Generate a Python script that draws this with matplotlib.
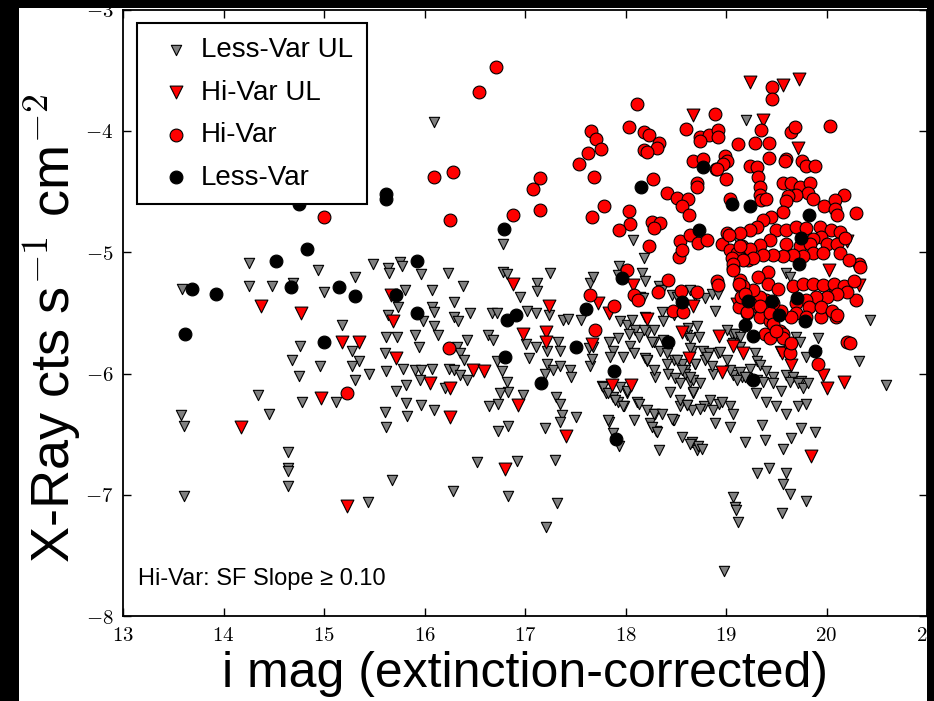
import numpy as np
import matplotlib
matplotlib.use("Agg")
import matplotlib.pyplot as plt
from matplotlib.patches import Rectangle
from matplotlib.ticker import FuncFormatter

plt.rcParams['font.family'] = ['Liberation Sans', 'DejaVu Sans']
plt.rcParams['mathtext.fontset'] = 'cm'

# i mag (extinction-corrected), log X-ray flux
lessvar_ul = [
    (16.09, -3.93),
    (13.59, -5.30), (14.25, -5.09), (14.94, -5.15), (14.25, -5.28), (14.48, -5.28), (14.69, -5.25),
    (15.00, -5.33), (15.31, -5.20), (15.49, -5.10), (15.64, -5.13), (15.76, -5.08), (15.78, -5.11),
    (15.65, -5.17), (15.97, -5.18), (16.07, -5.31), (16.23, -5.17), (16.38, -5.28), (16.78, -4.93),
    (16.78, -5.16), (16.82, -5.18), (15.81, -5.31), (15.64, -5.52), (16.07, -5.45), (16.09, -5.49),
    (15.99, -5.57), (16.29, -5.41), (16.29, -5.53), (16.33, -5.57), (16.45, -5.50), (16.67, -5.50),
    (16.72, -5.50), (16.09, -5.61), (16.13, -5.68), (15.91, -5.68), (15.95, -5.78), (15.62, -5.70),
    (15.73, -5.70), (15.61, -5.83), (15.18, -5.60), (14.76, -5.77), (14.68, -5.89), (14.96, -5.94),
    (14.75, -6.02), (15.28, -5.81), (15.35, -5.90), (15.28, -5.94), (15.45, -6.00), (15.31, -6.05),
    (15.62, -5.98), (15.79, -5.96), (15.91, -5.97), (15.97, -5.97), (16.07, -5.96), (15.72, -6.14),
    (15.82, -6.09), (15.96, -6.05), (16.24, -5.96), (16.29, -5.97), (16.35, -6.01), (16.42, -6.05),
    (16.32, -5.78), (16.35, -5.83), (16.39, -5.89), (16.42, -5.72), (16.63, -5.68), (16.68, -5.72),
    (16.72, -5.90), (16.77, -5.98), (16.82, -6.07), (16.83, -6.15), (16.75, -6.16), (16.64, -6.27),
    (16.73, -6.25), (16.20, -6.12), (15.82, -6.24), (15.97, -6.26), (16.09, -6.30), (15.83, -6.35),
    (15.61, -6.32), (15.62, -6.44), (15.12, -6.23), (14.78, -6.23), (14.34, -6.18), (14.45, -6.33),
    (13.58, -6.34), (13.61, -6.43), (14.64, -6.65), (14.64, -6.78), (14.64, -6.80), (14.64, -6.93),
    (13.61, -7.01), (15.44, -7.06), (15.68, -6.88), (16.28, -6.97), (16.52, -6.73), (16.83, -7.01),
    (16.73, -6.47), (16.83, -6.43), (16.92, -6.72), (15.74, -5.45),
    (17.25, -5.17), (17.12, -5.25), (17.12, -5.32), (17.24, -5.52), (17.11, -5.50), (17.02, -5.48),
    (17.38, -5.56), (17.43, -5.55), (17.56, -5.56), (17.01, -5.76), (17.11, -5.78), (17.04, -5.87),
    (17.22, -5.81), (17.22, -5.92), (17.33, -5.74), (17.35, -5.81), (17.28, -5.97), (17.35, -5.94),
    (17.45, -5.97), (17.46, -6.03), (17.20, -6.00), (16.98, -6.18), (17.31, -6.19), (17.35, -6.25),
    (17.37, -6.34), (17.35, -6.40), (17.51, -6.36), (17.20, -6.45), (17.30, -6.71), (17.65, -5.25),
    (17.68, -5.20), (17.64, -5.79), (17.68, -5.78), (17.65, -5.94), (17.67, -5.88), (17.84, -5.74),
    (17.88, -5.81), (17.85, -5.86), (17.94, -5.11), (17.93, -5.19), (18.18, -5.05), (18.16, -5.17),
    (18.19, -5.24), (17.95, -5.57), (18.01, -5.60), (18.06, -5.56), (18.09, -5.64), (17.93, -5.71),
    (18.03, -5.67), (18.13, -5.70), (18.21, -5.66), (18.28, -5.74), (18.37, -5.72), (17.98, -5.86),
    (18.04, -5.77), (18.08, -5.83), (18.19, -5.87), (18.21, -5.90), (18.29, -6.03), (17.77, -6.10),
    (17.81, -6.16), (17.88, -6.19), (17.93, -6.23), (18.01, -6.16), (17.99, -6.27), (17.95, -6.11),
    (18.11, -6.23), (17.84, -6.40), (17.88, -6.49), (17.94, -6.60), (18.24, -6.41), (18.30, -6.47),
    (18.29, -6.33), (18.33, -6.63), (18.42, -6.00), (18.49, -6.04), (18.54, -6.27), (18.47, -6.38),
    (18.56, -6.52), (18.66, -6.56), (18.71, -6.63), (18.44, -6.15), (18.67, -6.16), (18.64, -6.07),
    (18.59, -5.97), (18.69, -5.92), (18.66, -5.81), (18.61, -5.68),
    (19.20, -3.91), (18.07, -4.90), (19.12, -4.91), (19.60, -5.17), (19.64, -5.20), (20.43, -5.56),
    (20.01, -5.31), (20.32, -5.90), (20.59, -6.09), (19.70, -5.70), (19.74, -5.74), (19.80, -5.86),
    (19.92, -5.71), (19.90, -5.83), (19.06, -5.67), (19.07, -5.75), (19.14, -5.78), (19.29, -5.83),
    (19.31, -5.90), (19.34, -5.93), (19.24, -5.96), (19.40, -5.98), (19.47, -6.03), (19.60, -6.01),
    (19.67, -6.03), (19.75, -6.06), (19.07, -6.01), (19.16, -6.03), (19.21, -6.04), (19.31, -6.05),
    (19.37, -6.07), (19.47, -6.08), (19.55, -6.14), (19.64, -6.07), (19.72, -6.08), (19.77, -6.12),
    (19.82, -6.08), (19.30, -6.16), (19.40, -6.23), (19.50, -6.27), (19.60, -6.33), (19.72, -6.27),
    (19.80, -6.25), (19.04, -6.44), (19.19, -6.56), (19.36, -6.42), (19.39, -6.55), (19.57, -6.62),
    (19.65, -6.53), (19.75, -6.45), (19.89, -6.48), (19.31, -6.82), (19.43, -6.78), (19.57, -6.91),
    (19.60, -6.82), (19.64, -6.99), (19.80, -7.05), (19.56, -7.15), (19.07, -7.02), (19.09, -7.10),
    (19.12, -7.22), (17.21, -7.26), (17.32, -7.07), (16.95, -5.37), (18.78, -6.27), (18.87, -6.30),
    (18.93, -6.25), (19.04, -6.27), (19.07, -6.33), (18.89, -6.41), (18.72, -6.60), (18.64, -6.58),
    (18.76, -6.62), (18.26, -6.44), (18.31, -6.48), (18.48, -6.38), (18.77, -5.81), (18.83, -5.83),
    (18.92, -5.83), (18.87, -6.00), (18.79, -5.89), (18.34, -5.81), (18.41, -5.83), (18.48, -5.89),
    (18.56, -5.92), (18.59, -6.00), (18.67, -6.05), (18.74, -6.08), (17.78, -6.11), (17.83, -6.16),
    (17.90, -6.22), (17.98, -6.27), (18.01, -6.14), (18.13, -6.25), (18.08, -6.38), (17.83, -6.38),
    (18.21, -6.30), (18.28, -6.33), (18.36, -6.33), (18.46, -6.37), (18.54, -6.22), (18.61, -6.26),
    (18.66, -6.30), (18.74, -6.29), (19.10, -7.12), (18.98, -7.63),
    (18.33, -5.28), (18.36, -5.31), (18.46, -5.35), (18.51, -5.37), (18.64, -5.31), (18.69, -5.36),
    (18.79, -5.38), (18.86, -5.34), (18.92, -5.34), (18.89, -5.48), (18.19, -5.53), (18.36, -5.49),
    (18.37, -5.57), (18.48, -5.52), (18.14, -5.37), (18.17, -5.38), (18.28, -5.64), (18.18, -5.64),
    (18.71, -5.61), (18.62, -5.62), (18.73, -5.70), (18.64, -5.71), (19.01, -5.64), (19.09, -5.67),
    (19.14, -5.70), (18.26, -5.74), (18.21, -5.89), (18.28, -5.97), (18.41, -5.92), (18.51, -5.89),
    (18.56, -5.97), (18.64, -5.79), (18.69, -5.92), (18.81, -5.86), (18.86, -5.94), (18.94, -5.82),
    (19.01, -5.89), (19.04, -5.97), (19.14, -5.99), (19.11, -6.05), (19.19, -6.03), (18.64, -6.03),
    (18.54, -6.08), (18.67, -6.15), (18.61, -6.26), (18.84, -6.22), (18.96, -6.23), (19.54, -5.81),
]

hivar_ul = [
    (14.37, -5.44), (14.77, -5.50), (15.69, -5.57), (15.67, -5.35), (15.18, -5.74), (15.35, -5.74),
    (15.72, -5.87), (16.88, -5.26), (14.97, -6.20), (16.05, -6.08), (16.25, -6.12), (16.48, -5.97),
    (16.59, -5.98), (16.25, -6.36), (14.17, -6.44), (16.80, -6.79), (15.23, -7.09), (16.93, -6.26),
    (17.24, -5.44), (17.21, -5.66), (17.21, -5.74), (17.41, -6.51), (17.73, -5.42), (17.84, -5.50),
    (18.07, -5.27), (17.67, -5.76), (18.21, -5.55), (18.56, -5.66), (18.63, -5.87), (17.87, -6.09),
    (18.05, -6.09), (18.67, -5.44), (16.98, -5.67), (19.24, -3.60), (19.57, -3.62), (19.73, -3.57),
    (18.67, -3.87), (19.37, -3.91), (19.72, -4.14), (19.11, -5.43), (20.02, -5.15), (20.05, -5.30),
    (20.32, -5.27), (20.20, -4.91), (18.93, -5.69), (19.07, -5.77), (19.17, -5.83), (19.56, -5.83),
    (19.65, -5.93), (19.97, -6.01), (20.00, -6.12), (20.17, -6.07), (18.96, -5.99), (19.85, -6.68),
    (19.39, -5.52),
]

hivar = [
    (16.71, -3.47), (16.54, -3.68), (16.09, -4.38), (16.28, -4.34), (14.13, -4.47),
    (15.00, -4.71), (16.25, -4.73), (16.88, -4.69), (16.24, -5.79), (15.23, -6.16),
    (17.65, -5.35), (17.70, -5.64), (17.89, -5.44), (18.01, -5.15), (18.08, -5.35), (18.12, -5.39),
    (18.32, -5.33), (18.42, -5.23), (18.55, -5.32), (18.71, -5.33), (18.47, -5.48), (18.57, -5.49),
    (18.53, -5.04),
    (18.11, -3.78), (18.03, -3.97), (18.18, -4.01), (18.23, -4.03), (18.33, -4.10), (18.31, -4.14),
    (18.18, -4.16), (18.21, -4.17), (17.66, -4.00), (17.71, -4.07), (17.76, -4.15), (17.63, -4.18),
    (17.54, -4.27), (17.69, -4.38), (17.15, -4.39), (17.08, -4.48), (17.15, -4.65), (17.79, -4.62),
    (17.67, -4.71), (18.03, -4.66), (18.04, -4.77), (17.94, -4.82), (18.26, -4.75), (18.34, -4.76),
    (18.28, -4.80), (18.23, -4.95), (18.27, -4.40), (18.41, -4.51), (18.51, -4.55), (18.62, -4.56),
    (18.56, -4.62), (18.63, -4.69), (18.60, -3.98), (18.74, -4.05), (18.83, -4.03), (18.92, -3.99),
    (18.92, -4.05), (18.74, -4.08), (18.89, -3.86), (18.67, -4.25), (18.77, -4.23), (18.71, -4.43),
    (18.71, -4.46), (18.90, -4.31), (18.99, -4.21), (19.01, -4.25), (19.00, -4.40), (19.12, -4.11),
    (19.29, -4.10), (19.43, -4.10), (19.35, -3.99), (19.46, -3.64), (19.46, -3.74), (20.03, -3.96),
    (19.65, -4.01), (19.69, -3.97), (19.43, -4.22), (19.60, -4.23), (19.59, -4.25), (19.24, -4.29),
    (19.31, -4.30), (19.76, -4.25), (19.80, -4.29), (19.89, -4.29), (20.17, -4.53), (20.29, -4.68),
    (20.20, -5.74), (20.23, -5.75), (20.29, -5.39), (20.32, -5.10), (20.33, -5.12), (19.92, -5.92),
    (20.09, -5.53), (19.95, -5.53), (18.91, -5.24), (18.92, -5.27), (18.54, -4.91), (18.56, -4.98),
    (18.64, -4.86), (18.72, -4.92), (18.81, -4.90), (18.96, -4.93), (19.04, -4.98), (19.11, -5.01),
    (19.16, -4.95), (19.22, -5.06), (19.24, -5.02), (19.07, -5.13), (19.06, -5.05), (19.01, -4.84),
    (19.04, -4.56), (19.14, -5.23), (19.14, -5.28), (19.21, -5.34), (19.19, -5.39), (19.13, -5.45),
    (19.21, -5.50), (19.31, -5.44), (19.34, -5.53), (19.44, -5.57), (19.39, -5.67), (19.54, -5.65),
    (19.57, -5.67), (19.44, -5.71), (19.64, -5.76), (19.64, -5.83),
    (19.32, -4.38), (19.34, -4.46), (19.34, -4.53), (19.35, -4.57), (19.40, -4.56), (18.97, -4.27),
    (18.91, -4.31), (19.57, -4.43), (19.65, -4.43), (19.74, -4.46), (19.84, -4.43), (19.82, -4.51),
    (19.70, -4.53), (19.87, -4.56), (19.62, -4.54), (19.60, -4.58), (19.98, -4.62), (20.08, -4.57),
    (20.08, -4.64), (20.10, -4.69), (19.57, -4.67), (19.45, -4.71), (19.37, -4.73), (19.31, -4.79),
    (19.24, -4.82), (19.14, -4.84), (19.03, -4.86), (19.50, -4.82), (19.60, -4.82), (19.70, -4.79),
    (19.80, -4.80), (19.94, -4.79), (20.04, -4.82), (20.13, -4.83), (19.95, -4.87), (19.87, -4.89),
    (20.00, -4.93), (20.10, -4.93), (20.18, -4.88), (20.13, -5.01), (20.22, -5.06), (19.44, -4.90),
    (19.34, -4.94), (19.24, -4.97), (19.14, -4.95), (19.60, -4.93), (19.74, -4.95), (19.84, -4.93),
    (19.87, -5.01), (19.97, -5.01), (19.77, -5.03), (19.67, -5.02), (19.57, -5.03), (19.47, -5.02),
    (19.37, -5.02), (19.27, -5.05), (19.17, -5.06), (19.07, -5.10), (19.42, -5.16), (19.32, -5.20),
    (19.42, -5.26), (19.52, -5.30), (19.67, -5.28), (19.77, -5.26), (19.87, -5.26), (19.97, -5.27),
    (20.07, -5.26), (20.17, -5.28), (20.27, -5.24), (20.20, -5.33), (20.10, -5.34), (20.00, -5.37),
    (19.90, -5.37), (19.80, -5.39), (19.70, -5.42), (19.83, -5.45), (19.95, -5.45), (20.05, -5.48),
    (19.70, -5.50), (19.80, -5.53), (19.65, -5.53), (19.55, -5.48), (19.47, -5.42), (19.40, -5.39),
    (19.34, -5.37), (19.27, -5.31), (19.17, -5.28), (19.15, -5.37), (19.24, -5.42), (19.34, -5.44),
    (19.44, -5.50), (19.47, -5.59), (19.57, -5.71), (19.65, -5.75), (20.10, -5.52), (19.07, -5.15),
    (19.13, -5.26), (19.19, -5.34), (19.21, -5.49), (19.50, -5.65),
]

lessvar = [
    (14.75, -4.60), (15.62, -4.52), (15.62, -4.56), (14.83, -4.97), (14.52, -5.07), (15.93, -5.07),
    (16.79, -4.81), (13.69, -5.30), (13.93, -5.34), (14.67, -5.29), (15.15, -5.29), (15.31, -5.36),
    (15.72, -5.35), (15.93, -5.50), (13.62, -5.67), (15.00, -5.74), (16.82, -5.56), (16.91, -5.52),
    (16.80, -5.86), (17.61, -5.47), (17.51, -5.78), (17.97, -5.21), (17.89, -5.98), (17.91, -6.54),
    (18.56, -5.41), (18.42, -5.74), (17.16, -6.08), (18.77, -4.30), (18.15, -4.46), (19.06, -4.60),
    (19.24, -4.62), (18.73, -4.82), (19.83, -4.69), (19.75, -4.88), (19.73, -5.10), (19.71, -5.38),
    (19.79, -5.57), (19.46, -5.40), (19.22, -5.40), (19.53, -5.52), (19.19, -5.60), (19.27, -5.69),
    (19.89, -5.81), (19.27, -6.05),
]

series = [
    ("Less-Var UL", lessvar_ul, "v", "#808080", 55),
    ("Hi-Var UL", hivar_ul, "v", "red", 85),
    ("Hi-Var", hivar, "o", "red", 85),
    ("Less-Var", lessvar, "o", "black", 85),
]

W, H = 934, 701
fig = plt.figure(figsize=(W / 100, H / 100), dpi=100, facecolor="black")
fig.patches.append(Rectangle((19 / W, 0), (927 - 19) / W, (H - 8) / H,
                             transform=fig.transFigure, facecolor="white",
                             edgecolor="none", zorder=-10))
ax = fig.add_axes([123 / W, (H - 616.3) / H, 804 / W, 606.7 / H])

for label, pts, marker, color, size in series:
    xy = np.array(pts)
    ax.scatter(xy[:, 0], xy[:, 1], marker=marker, s=size, c=color,
               edgecolors="black", linewidths=0.8, label=label)

ax.set_xlim(13, 21)
ax.set_ylim(-8, -3)
ax.set_xticks(np.arange(13, 22))
ax.set_yticks(np.arange(-8, -2))
fmt = FuncFormatter(lambda v, p: r"$%d$" % v)
ax.xaxis.set_major_formatter(fmt)
ax.yaxis.set_major_formatter(fmt)
ax.tick_params(direction="in", length=6, width=1, top=True, right=True,
               labelsize=15, pad=7)
for sp in ax.spines.values():
    sp.set_linewidth(1.3)

ax.set_xlabel("i mag (extinction-corrected)", fontsize=36, labelpad=4)
ax.set_ylabel(r"X-Ray cts s$^{-1}$ cm$^{-2}$", fontsize=39)
ax.yaxis.set_label_coords(-0.05, 0.475)

ax.text(0.019, 0.052, "Hi-Var: SF Slope \u2265 0.10", transform=ax.transAxes,
        fontsize=17, va="baseline", ha="left")

leg = ax.legend(loc="upper left", scatterpoints=1, fontsize=20, fancybox=False,
                framealpha=1, edgecolor="black", borderpad=0.5, handlelength=1.8,
                handletextpad=0.0, labelspacing=0.59, borderaxespad=0.5)
leg.get_frame().set_linewidth(1.5)

fig.savefig("out.png", dpi=100, facecolor=fig.get_facecolor())
